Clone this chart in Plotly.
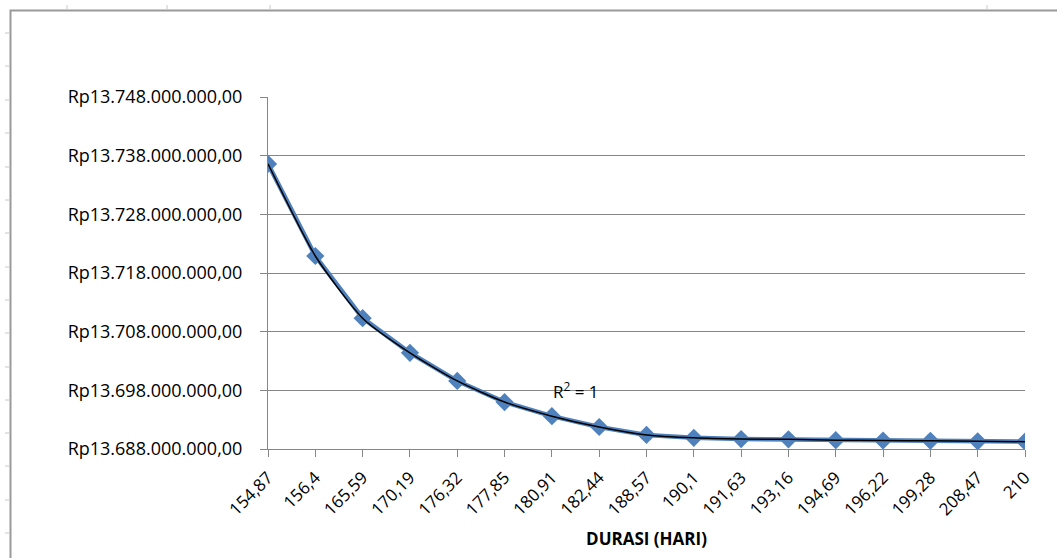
import plotly.graph_objects as go

durasi = ["154,87", "156,4", "165,59", "170,19", "176,32", "177,85", "180,91", "182,44",
          "188,57", "190,1", "191,63", "193,16", "194,69", "196,22", "199,28", "208,47", "210"]
biaya = [13736.6e6, 13720.9e6, 13710.3e6, 13704.4e6, 13699.6e6, 13696.0e6, 13693.6e6, 13691.75e6,
         13690.4e6, 13689.9e6, 13689.7e6, 13689.65e6, 13689.5e6, 13689.45e6, 13689.4e6, 13689.3e6, 13689.25e6]
y_ticks = [13688e6, 13698e6, 13708e6, 13718e6, 13728e6, 13738e6, 13748e6]
y_labels = ["Rp13.688.000.000,00", "Rp13.698.000.000,00", "Rp13.708.000.000,00", "Rp13.718.000.000,00",
            "Rp13.728.000.000,00", "Rp13.738.000.000,00", "Rp13.748.000.000,00"]

W, H = 1057, 558
L, R, T, B = 268, 32, 97, 109

fig = go.Figure()
fig.add_trace(go.Scatter(x=durasi, y=biaya, mode="lines+markers",
                         line=dict(color="#4F81BD", width=4.5),
                         marker=dict(symbol="diamond", size=14, color="#4F81BD"),
                         showlegend=False))
fig.add_trace(go.Scatter(x=durasi, y=biaya, mode="lines",
                         line=dict(color="#000000", width=1.5, shape="spline", smoothing=0.6),
                         showlegend=False))

fig.add_annotation(x=6.5, y=13697.9e6, text="R<sup>2</sup> = 1", showarrow=False,
                   font=dict(size=17, color="#000000", family="Open Sans"))

def px(x):
    return (x - L) / (W - L - R)

def py(y):
    return (H - B - y) / (H - T - B)

shapes = []
gray = "#9A9A9A"
# outer frame (spreadsheet chart border, cropped at right/bottom)
shapes.append(dict(type="rect", xref="paper", yref="paper", x0=px(10.5), x1=px(1080), y0=py(10.5), y1=py(580),
                   line=dict(color=gray, width=2), fillcolor="rgba(0,0,0,0)", layer="above"))
for yy in [33, 66, 100, 133, 167, 200, 233, 267, 300, 333, 367, 400, 433, 466, 500, 533]:
    shapes.append(dict(type="line", xref="paper", yref="paper", x0=px(5), x1=px(9), y0=py(yy), y1=py(yy),
                       line=dict(color="#C8C8C8", width=1)))
for xx in [67, 167, 270, 987]:
    shapes.append(dict(type="line", xref="paper", yref="paper", x0=px(xx), x1=px(xx), y0=py(5), y1=py(9),
                       line=dict(color="#C8C8C8", width=1)))
fig.update_layout(shapes=shapes)

fig.update_layout(
    width=W, height=H,
    margin=dict(l=L, r=R, t=T, b=B),
    paper_bgcolor="white", plot_bgcolor="white",
    font=dict(family="Open Sans", size=18, color="#000000"),
    xaxis=dict(type="category", range=[0, len(durasi) - 1], tickangle=-45,
               showgrid=False, showline=True, linecolor="#868686", linewidth=1,
               ticks="outside", ticklen=7, tickcolor="#868686",
               tickfont=dict(size=17), ticklabelstandoff=4,
               title=dict(text="<b>DURASI (HARI)</b>", font=dict(size=17), standoff=14)),
    yaxis=dict(range=[13688e6, 13748e6], tickvals=y_ticks, ticktext=y_labels,
               showgrid=True, gridcolor="#868686", gridwidth=1,
               showline=True, linecolor="#868686", linewidth=1,
               ticks="outside", ticklen=7, tickcolor="#868686",
               tickfont=dict(size=18), ticklabelstandoff=14, zeroline=False),
)

fig.write_html("out.html")
